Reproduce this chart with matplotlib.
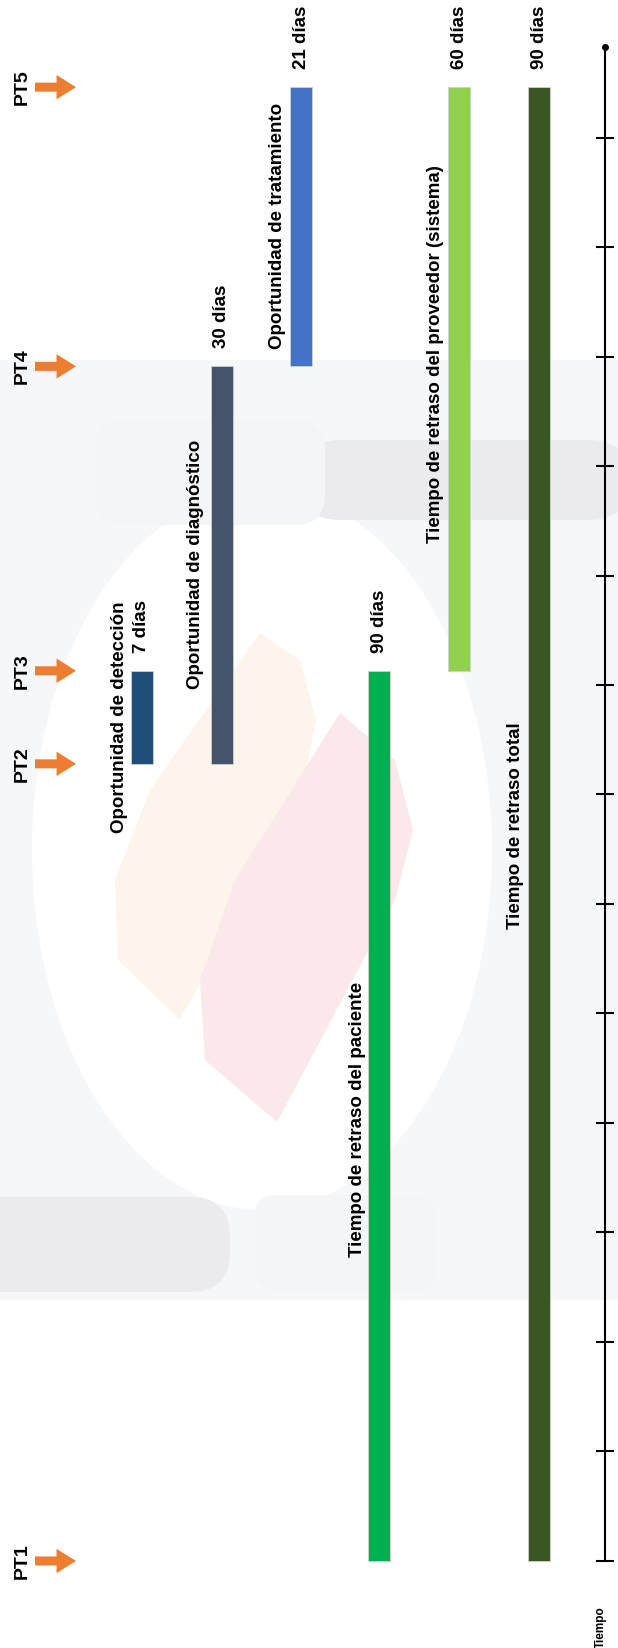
import matplotlib.pyplot as plt
from matplotlib.patches import Polygon, Ellipse, FancyBboxPatch, Rectangle

plt.rcParams['font.family'] = ['Liberation Sans', 'DejaVu Sans']

# hitos del proceso (posicion sobre el eje de tiempo, en marcas del eje)
hitos = ['PT1', 'PT2', 'PT3', 'PT4', 'PT5']
hito_pos = [0, 7.28, 8.13, 10.91, 13.46]

# etapas: nombre, hito inicial, hito final, etiqueta de duracion
etapas = ['Oportunidad de detección', 'Oportunidad de diagnóstico', 'Oportunidad de tratamiento',
          'Tiempo de retraso del paciente', 'Tiempo de retraso del proveedor (sistema)',
          'Tiempo de retraso total']
inicio = ['PT2', 'PT2', 'PT4', 'PT1', 'PT3', 'PT1']
fin = ['PT3', 'PT4', 'PT5', 'PT3', 'PT5', 'PT5']
duracion = ['7 días', '30 días', '21 días', '90 días', '60 días', '90 días']
colores = ['#1F4E79', '#44546A', '#4472C4', '#00B050', '#92D050', '#3A5624']

n_marcas = 14

pos = dict(zip(hitos, hito_pos))

fig = plt.figure(figsize=(6.18, 16.48), dpi=100)

# marca de agua del fondo (decorativa, en pixeles)
bg = fig.add_axes([0, 0, 1, 1])
bg.set_xlim(0, 618)
bg.set_ylim(1648, 0)
bg.axis('off')
bg.add_patch(Rectangle((0, 360), 618, 940, color='#f6f7f9', lw=0))
bg.add_patch(Ellipse((262, 850), 460, 720, color='white', lw=0))
bg.add_patch(FancyBboxPatch((300, 440), 330, 80, boxstyle='round,pad=0,rounding_size=40',
                            color='#ebebef', lw=0))
bg.add_patch(FancyBboxPatch((95, 420), 230, 105, boxstyle='round,pad=0,rounding_size=30',
                            color='#f4f5f7', lw=0))
bg.add_patch(FancyBboxPatch((-40, 1197), 270, 95, boxstyle='round,pad=0,rounding_size=40',
                            color='#ebebef', lw=0))
bg.add_patch(FancyBboxPatch((255, 1195), 180, 95, boxstyle='round,pad=0,rounding_size=20',
                            color='#f4f5f7', lw=0))
bg.add_patch(Polygon([(260, 633), (300, 660), (316, 720), (300, 800), (180, 1020), (118, 960),
                      (115, 880), (150, 790)],
                     closed=True, color='#fdf5eb', lw=0))
bg.add_patch(Polygon([(340, 713), (395, 760), (413, 830), (395, 900), (277, 1122), (205, 1060),
                      (200, 980), (235, 880)],
                     closed=True, color='#fae8ea', lw=0))

ax = fig.add_axes([0, 0, 1, 1])
ax.patch.set_alpha(0)
ax.set_xlim(0, 618)
ax.set_ylim(-0.795, 14.256)
ax.axis('off')

# columnas de las barras (px) y posicion de los nombres
col_x = [142, 222, 301, 379, 459, 539]
name_x = [119, 196, 278, 358, 436, 515]
name_y = [7.71, 9.10, 12.19, 4.03, 11.02, 6.72]

for i, etapa in enumerate(etapas):
    y0 = pos[inicio[i]]
    y1 = pos[fin[i]]
    ax.bar(col_x[i], y1 - y0, bottom=y0, width=22, color=colores[i],
           edgecolor='#d0d0d0', linewidth=0.6, zorder=3)
    ax.annotate(duracion[i], (col_x[i], y1), xytext=(0, 13), textcoords='offset points',
                rotation=90, ha='center', va='bottom', fontsize=13.5, fontweight='bold')
    ax.text(name_x[i], name_y[i], etapa, rotation=90, ha='center', va='center',
            fontsize=13.5, fontweight='bold', zorder=4)

# flechas de los hitos
for h in hitos:
    ax.annotate('', xy=(76, pos[h]), xytext=(35, pos[h]),
                arrowprops=dict(arrowstyle='simple,head_length=1.4,head_width=1.75,tail_width=0.65',
                                color='#ED7D31', lw=0, shrinkA=0, shrinkB=0))
    ax.text(22, pos[h], h, rotation=90, ha='center', va='center', fontsize=14, fontweight='bold')

# eje del tiempo
ax.plot([605, 605], [0, 13.83], color='black', lw=1.5, zorder=2)
ax.plot([605] * n_marcas, list(range(n_marcas)), linestyle='none', marker='_',
        markersize=13, markeredgewidth=1.5, color='black')
ax.plot([605], [13.83], marker='o', markersize=4, color='black')
ax.text(601, -0.60, 'Tiempo', rotation=90, ha='center', va='center', fontsize=8.5, fontweight='bold')

fig.savefig('out.png', dpi=100)
